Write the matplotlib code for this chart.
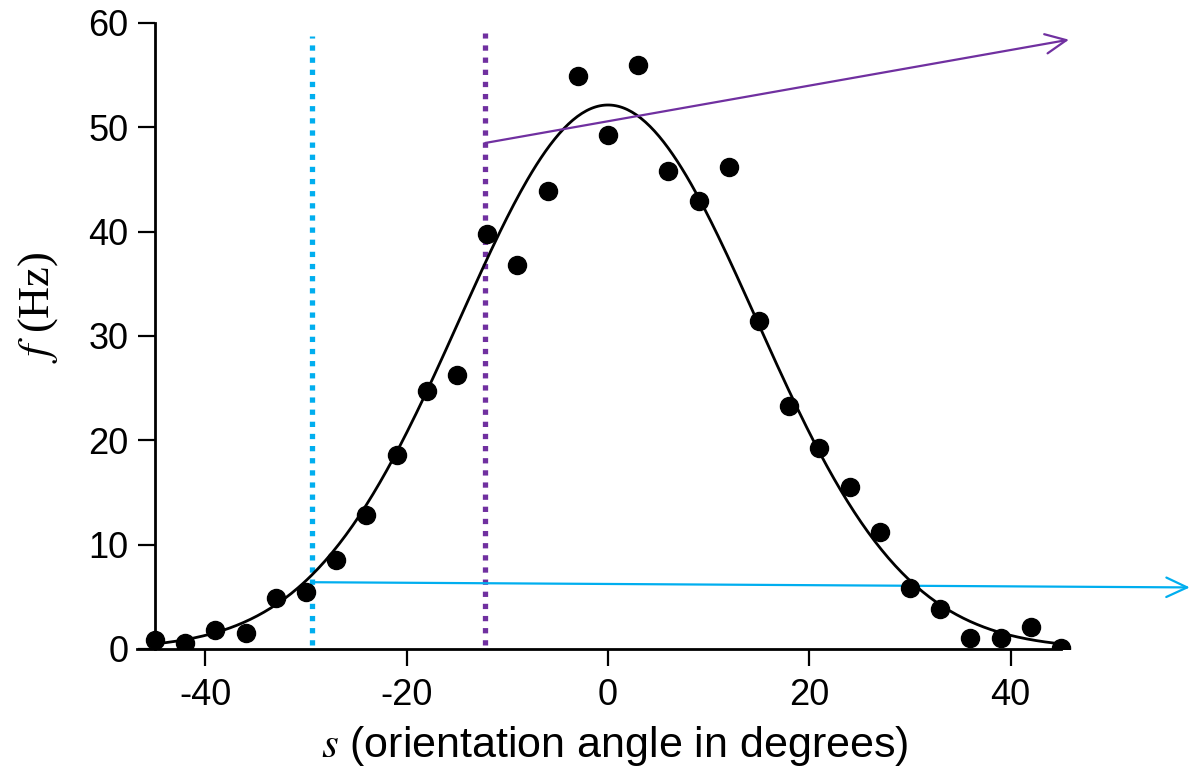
import numpy as np
import matplotlib
matplotlib.use('Agg')
from matplotlib import pyplot as plt

# orientation angle (degrees) and measured firing rate (Hz)
angles = [-45, -42, -39, -36, -33, -30, -27, -24, -21, -18, -15, -12, -9, -6, -3,
          0, 3, 6, 9, 12, 15, 18, 21, 24, 27, 30, 33, 36, 39, 42, 45]
rates = [0.9, 0.6, 1.8, 1.5, 4.9, 5.5, 8.5, 12.8, 18.6, 24.7, 26.3, 39.8, 36.8, 43.9, 54.9,
         49.3, 56.0, 45.8, 42.9, 46.2, 31.4, 23.3, 19.3, 15.5, 11.2, 5.8, 3.8, 1.1, 1.1, 2.1, 0.1]

# gaussian tuning curve fit
r_max = 52.14
s_max = 0.0
sigma_f = 14.73

# marked stimulus values
s_cyan = -29.4
s_purple = -12.2
cyan_arrow = [(-29.4, 6.4), (57.8, 5.9)]
purple_arrow = [(-12.2, 48.5), (45.8, 58.4)]

cyan = '#00aeef'
purple = '#7030a0'

plt.rcParams['font.family'] = ['Liberation Sans', 'DejaVu Sans']
plt.rcParams['mathtext.fontset'] = 'stix'
plt.rcParams['axes.unicode_minus'] = False

fig = plt.figure(figsize=(11.92, 7.82), dpi=100)
ax = fig.add_axes([0.1149, 0.1701, 0.7836, 0.8005])

s = np.linspace(-45, 45, 400)
f = r_max * np.exp(-0.5 * ((s - s_max) / sigma_f) ** 2)
ax.plot(s, f, color='black', lw=2.0, zorder=3)
ax.plot(angles, rates, 'o', color='black', ms=13, zorder=4)

ax.plot([s_cyan, s_cyan], [0.4, 58.8], color=cyan, lw=3.8, dashes=(1, 1.3), zorder=2)
ax.plot([s_purple, s_purple], [0.4, 59.0], color=purple, lw=3.8, dashes=(1, 1.3), zorder=2)

ax.annotate('', xy=cyan_arrow[1], xytext=cyan_arrow[0], annotation_clip=False,
            arrowprops=dict(arrowstyle='->, head_length=0.75, head_width=0.35',
                            color=cyan, lw=1.6, mutation_scale=20,
                            shrinkA=0, shrinkB=0))
ax.annotate('', xy=purple_arrow[1], xytext=purple_arrow[0], annotation_clip=False,
            arrowprops=dict(arrowstyle='->, head_length=0.75, head_width=0.35',
                            color=purple, lw=1.6, mutation_scale=20,
                            shrinkA=0, shrinkB=0))

ax.set_xlim(-46.8, 46)
ax.set_ylim(0, 60)
ax.spines['top'].set_visible(False)
ax.spines['right'].set_visible(False)
ax.spines['left'].set_position(('data', -45))
ax.spines['bottom'].set_bounds(-46.8, 45)
for sp in ('left', 'bottom'):
    ax.spines[sp].set_linewidth(2.0)

ax.set_xticks([-40, -20, 0, 20, 40])
ax.set_yticks([0, 10, 20, 30, 40, 50, 60])
ax.tick_params(axis='both', direction='out', length=12, width=1.6, labelsize=26)
ax.tick_params(axis='y', pad=7)
ax.tick_params(axis='x', pad=9)

ax.text(0.511, -0.155, r'$s$ (orientation angle in degrees)', transform=ax.transAxes,
        fontsize=31, ha='center', va='center')
ax.text(-0.106, 0.546, r'$f$ (Hz)', transform=ax.transAxes, rotation=90,
        fontsize=32, ha='center', va='center', family=['Liberation Serif', 'DejaVu Serif'])

fig.savefig('out.png', dpi=100)
